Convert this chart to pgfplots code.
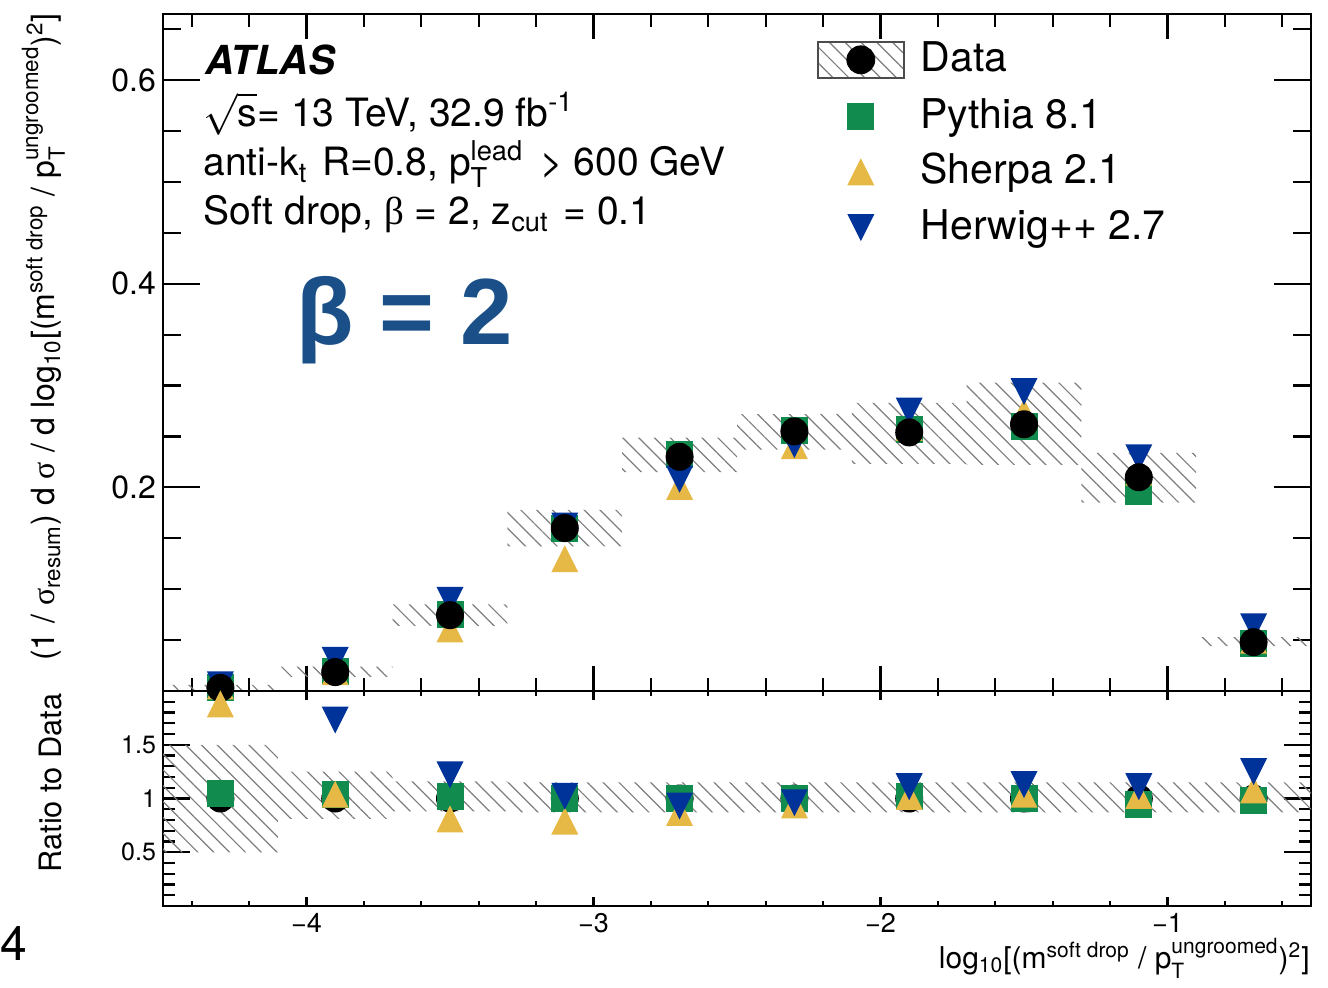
\documentclass[border=0pt]{standalone}
\usepackage{fontspec}
\setmainfont{TeX Gyre Heros}
\newfontfamily\grk{Liberation Serif}
\newfontfamily\betafont{Liberation Sans}
\usepackage{amsmath}
\usepackage{pgfplots}
\pgfplotsset{compat=1.18}
\usepackage{pgfplotstable}
\usetikzlibrary{patterns.meta}

\definecolor{pyG}{RGB}{17,140,78}
\definecolor{shY}{RGB}{230,185,70}
\definecolor{hwB}{RGB}{0,51,153}
\definecolor{betaB}{RGB}{26,80,135}
\definecolor{hatchC}{RGB}{125,125,125}

\pgfdeclareplotmark{fsq}{\pgfpathrectangle{\pgfqpoint{-\pgfplotmarksize}{-\pgfplotmarksize}}{\pgfqpoint{2\pgfplotmarksize}{2\pgfplotmarksize}}\pgfusepathqfill}
\pgfdeclareplotmark{fcirc}{\pgfpathcircle{\pgfpointorigin}{\pgfplotmarksize}\pgfusepathqfill}
\pgfdeclareplotmark{utri}{\pgfpathmoveto{\pgfqpoint{0pt}{\pgfplotmarksize}}\pgfpathlineto{\pgfqpoint{\pgfplotmarksize}{-\pgfplotmarksize}}\pgfpathlineto{\pgfqpoint{-\pgfplotmarksize}{-\pgfplotmarksize}}\pgfpathclose\pgfusepathqfill}
\pgfdeclareplotmark{dtri}{\pgfpathmoveto{\pgfqpoint{0pt}{-\pgfplotmarksize}}\pgfpathlineto{\pgfqpoint{\pgfplotmarksize}{\pgfplotmarksize}}\pgfpathlineto{\pgfqpoint{-\pgfplotmarksize}{\pgfplotmarksize}}\pgfpathclose\pgfusepathqfill}

\tikzset{hatchband/.style={draw=none, pattern={Lines[angle=-45,distance=5.6pt,line width=0.6pt]}, pattern color=hatchC}}

% top panel: bin centres and values
\pgfplotstableread{
x data pythia sherpa herwig
-4.3 0.003 0.003 0.005 0.006
-3.9 0.0186 0.019 0.019 0.030
-3.5 0.0745 0.0755 0.061 0.089
-3.1 0.160 0.160 0.130 0.162
-2.7 0.230 0.232 0.201 0.208
-2.3 0.255 0.256 0.241 0.242
-1.9 0.254 0.257 0.259 0.275
-1.5 0.262 0.260 0.274 0.294
-1.1 0.210 0.196 0.215 0.229
-0.7 0.048 0.047 0.050 0.063
}\maintab

% top panel: data uncertainty band, one rectangle per bin (corners, nan separates bins)
\pgfplotstableread{
x y
-4.5 0.001
-4.1 0.001
-4.1 0.006
-4.5 0.006
nan nan
-4.1 0.014
-3.7 0.014
-3.7 0.024
-4.1 0.024
nan nan
-3.7 0.064
-3.3 0.064
-3.3 0.085
-3.7 0.085
nan nan
-3.3 0.142
-2.9 0.142
-2.9 0.178
-3.3 0.178
nan nan
-2.9 0.215
-2.5 0.215
-2.5 0.249
-2.9 0.249
nan nan
-2.5 0.237
-2.1 0.237
-2.1 0.272
-2.5 0.272
nan nan
-2.1 0.223
-1.7 0.223
-1.7 0.283
-2.1 0.283
nan nan
-1.7 0.222
-1.3 0.222
-1.3 0.303
-1.7 0.303
nan nan
-1.3 0.185
-0.9 0.185
-0.9 0.234
-1.3 0.234
nan nan
-0.9 0.044
-0.5 0.044
-0.5 0.053
-0.9 0.053
}\bandtop

% ratio panel
\pgfplotstableread{
x data pythia sherpa herwig
-4.3 1 1.05 1.88 2.03
-3.9 1 1.04 1.04 1.73
-3.5 1 1.02 0.81 1.22
-3.1 1 1.00 0.79 1.02
-2.7 1 1.00 0.87 0.93
-2.3 1 1.00 0.94 0.96
-1.9 1 1.02 1.02 1.11
-1.5 1 1.00 1.04 1.13
-1.1 1 0.94 1.03 1.11
-0.7 1 0.98 1.08 1.25
}\ratiotab

\pgfplotstableread{
x y
-4.5 0.50
-4.1 0.50
-4.1 1.50
-4.5 1.50
nan nan
-4.1 0.81
-3.7 0.81
-3.7 1.25
-4.1 1.25
nan nan
-3.7 0.88
-3.3 0.88
-3.3 1.16
-3.7 1.16
nan nan
-3.3 0.87
-0.5 0.87
-0.5 1.15
-3.3 1.15
}\bandratio

\pgfplotsset{
  atlasstyle/.style={
    scale only axis, width=574pt,
    xmin=-4.5, xmax=-0.5,
    tick align=inside,
    axis line style={line width=1.1pt},
    tick style={line width=1.1pt, black},
    xtick={-4,-3,-2,-1},
    minor xtick={-4.4,-4.2,-3.8,-3.6,-3.4,-3.2,-2.8,-2.6,-2.4,-2.2,-1.8,-1.6,-1.4,-1.2,-0.8,-0.6},
  }
}

\begin{document}
\begin{tikzpicture}
\useasboundingbox (0pt,0pt) rectangle (664pt,493.5pt);

% ---------------- top panel ----------------
\begin{axis}[atlasstyle,
  at={(81.5pt,148pt)}, anchor=south west, height=338.5pt,
  ymin=0, ymax=0.665,
  xticklabels=\empty,
  ytick={0.2,0.4,0.6}, yticklabels={0.2,0.4,0.6},
  minor ytick={0.05,0.1,0.15,0.25,0.3,0.35,0.45,0.5,0.55,0.65},
  xtick style={/pgfplots/major tick length=12.5pt,/pgfplots/minor tick length=6.5pt},
  ytick style={/pgfplots/major tick length=18.5pt,/pgfplots/minor tick length=9pt},
  yticklabel style={font=\fontsize{16}{16}\selectfont},
  legend style={at={(0.5697,0.9601)}, anchor=north west, draw=none, fill=none,
    inner sep=0pt, outer sep=0pt, row sep=9.5pt, column sep=8pt,
    font=\fontsize{20.5}{20.5}\selectfont,
    nodes={text height=12pt, text depth=0pt, inner sep=0pt}},
  legend cell align=left,
  legend image code/.code={\path (0pt,-9pt) (43pt,9pt);
    \draw[#1, mark repeat=2, mark phase=2] plot coordinates {(0pt,0pt) (21.5pt,0pt) (43pt,0pt)};},
]
\addplot[hatchband, forget plot, unbounded coords=jump] table[x=x, y=y]{\bandtop};

\addlegendimage{legend image code/.code={
  \fill[pattern={Lines[angle=-45,distance=5.6pt,line width=0.6pt]}, pattern color=hatchC] (0pt,-9pt) rectangle (43pt,9pt);
  \draw[line width=0.8pt, black!70] (0pt,-9pt) rectangle (43pt,9pt);
  \fill[black] (21.5pt,0pt) circle (7pt);}}
\addlegendentry{Data}

\addplot[only marks, mark=fsq, mark size=6.75pt, color=pyG] table[x=x, y=pythia]{\maintab};
\addlegendentry{Pythia 8.1}
\addplot[only marks, mark=utri, mark size=6.75pt, color=shY] table[x=x, y=sherpa]{\maintab};
\addlegendentry{Sherpa 2.1}
\addplot[only marks, mark=dtri, mark size=6.75pt, color=hwB] table[x=x, y=herwig]{\maintab};
\addlegendentry{Herwig++ 2.7}
\addplot[only marks, mark=fcirc, mark size=7pt, color=black, forget plot] table[x=x, y=data]{\maintab};
\end{axis}

% ---------------- ratio panel ----------------
\begin{axis}[atlasstyle,
  at={(81.5pt,40.5pt)}, anchor=south west, height=107.5pt,
  ymin=0, ymax=2,
  xticklabels={−4,−3,−2,−1},
  ytick={0.5,1,1.5}, yticklabels={0.5,1,1.5},
  minor ytick={0.1,0.2,0.3,0.4,0.6,0.7,0.8,0.9,1.1,1.2,1.3,1.4,1.6,1.7,1.8,1.9},
  xtick style={/pgfplots/major tick length=4.5pt,/pgfplots/minor tick length=2.3pt},
  ytick style={/pgfplots/major tick length=13.5pt,/pgfplots/minor tick length=6pt},
  yticklabel style={font=\fontsize{12.5}{12.5}\selectfont},
  xticklabel style={font=\fontsize{13.5}{13.5}\selectfont},
]
\addplot[hatchband, forget plot, unbounded coords=jump] table[x=x, y=y]{\bandratio};

\addplot[only marks, mark=fcirc, mark size=7pt, color=black] table[x=x, y=data]{\ratiotab};
\addplot[only marks, mark=fsq, mark size=6.75pt, color=pyG] table[x=x, y=pythia]{\ratiotab};
\addplot[only marks, mark=utri, mark size=6.75pt, color=shY] table[x=x, y=sherpa]{\ratiotab};
\addplot[only marks, mark=dtri, mark size=6.75pt, color=hwB] table[x=x, y=herwig]{\ratiotab};
\end{axis}

% ---------------- texts ----------------
\node[anchor=base west, inner sep=0pt, font=\fontsize{20}{20}\selectfont\bfseries\itshape] at (102.5pt,456pt) {ATLAS};
\node[anchor=base west, inner sep=0pt, font=\fontsize{19.5}{19.5}\selectfont] at (101.5pt,430pt) {$\sqrt{\text{s}}$= 13 TeV, 32.9 fb$^{\text{-1}}$};
\node[anchor=base west, inner sep=0pt, font=\fontsize{19.5}{19.5}\selectfont] at (101.5pt,405.5pt) {anti-k$_{\text{t}}$\hspace{2pt} R=0.8, p$_{\text{T}}^{\text{lead}}$\hspace{3pt} > 600 GeV};
\node[anchor=base west, inner sep=0pt, font=\fontsize{19.5}{19.5}\selectfont] at (101.5pt,381pt) {Soft drop, {\grk β} = 2, z$_{\text{cut}}$\hspace{2pt} = 0.1};
\node[anchor=base west, inner sep=0pt, text=betaB, font=\fontsize{47}{47}\selectfont\betafont\bfseries] at (148pt,321pt) {β = 2};

\node[rotate=90, anchor=base east, inner sep=0pt, font=\fontsize{16}{16}\selectfont] at (27.5pt,487pt)
  {(1 / {\grk σ}$_{\text{resum}}$) d {\grk σ} / d log$_{\text{10}}$[(m$^{\text{soft drop}}$ / p$_{\text{T}}^{\text{ungroomed}}$)$^{\text{2}}$]};
\node[rotate=90, anchor=base east, inner sep=0pt, font=\fontsize{15.4}{15.4}\selectfont] at (31pt,147pt) {Ratio to Data};
\node[anchor=base east, inner sep=0pt, font=\fontsize{15}{15}\selectfont] at (655pt,9.5pt)
  {log$_{\text{10}}$[(m$^{\text{soft drop}}$ / p$_{\text{T}}^{\text{ungroomed}}$)$^{\text{2}}$]};
\node[anchor=base west, inner sep=0pt, font=\fontsize{24}{24}\selectfont] at (0pt,13.5pt) {4};
\end{tikzpicture}
\end{document}
